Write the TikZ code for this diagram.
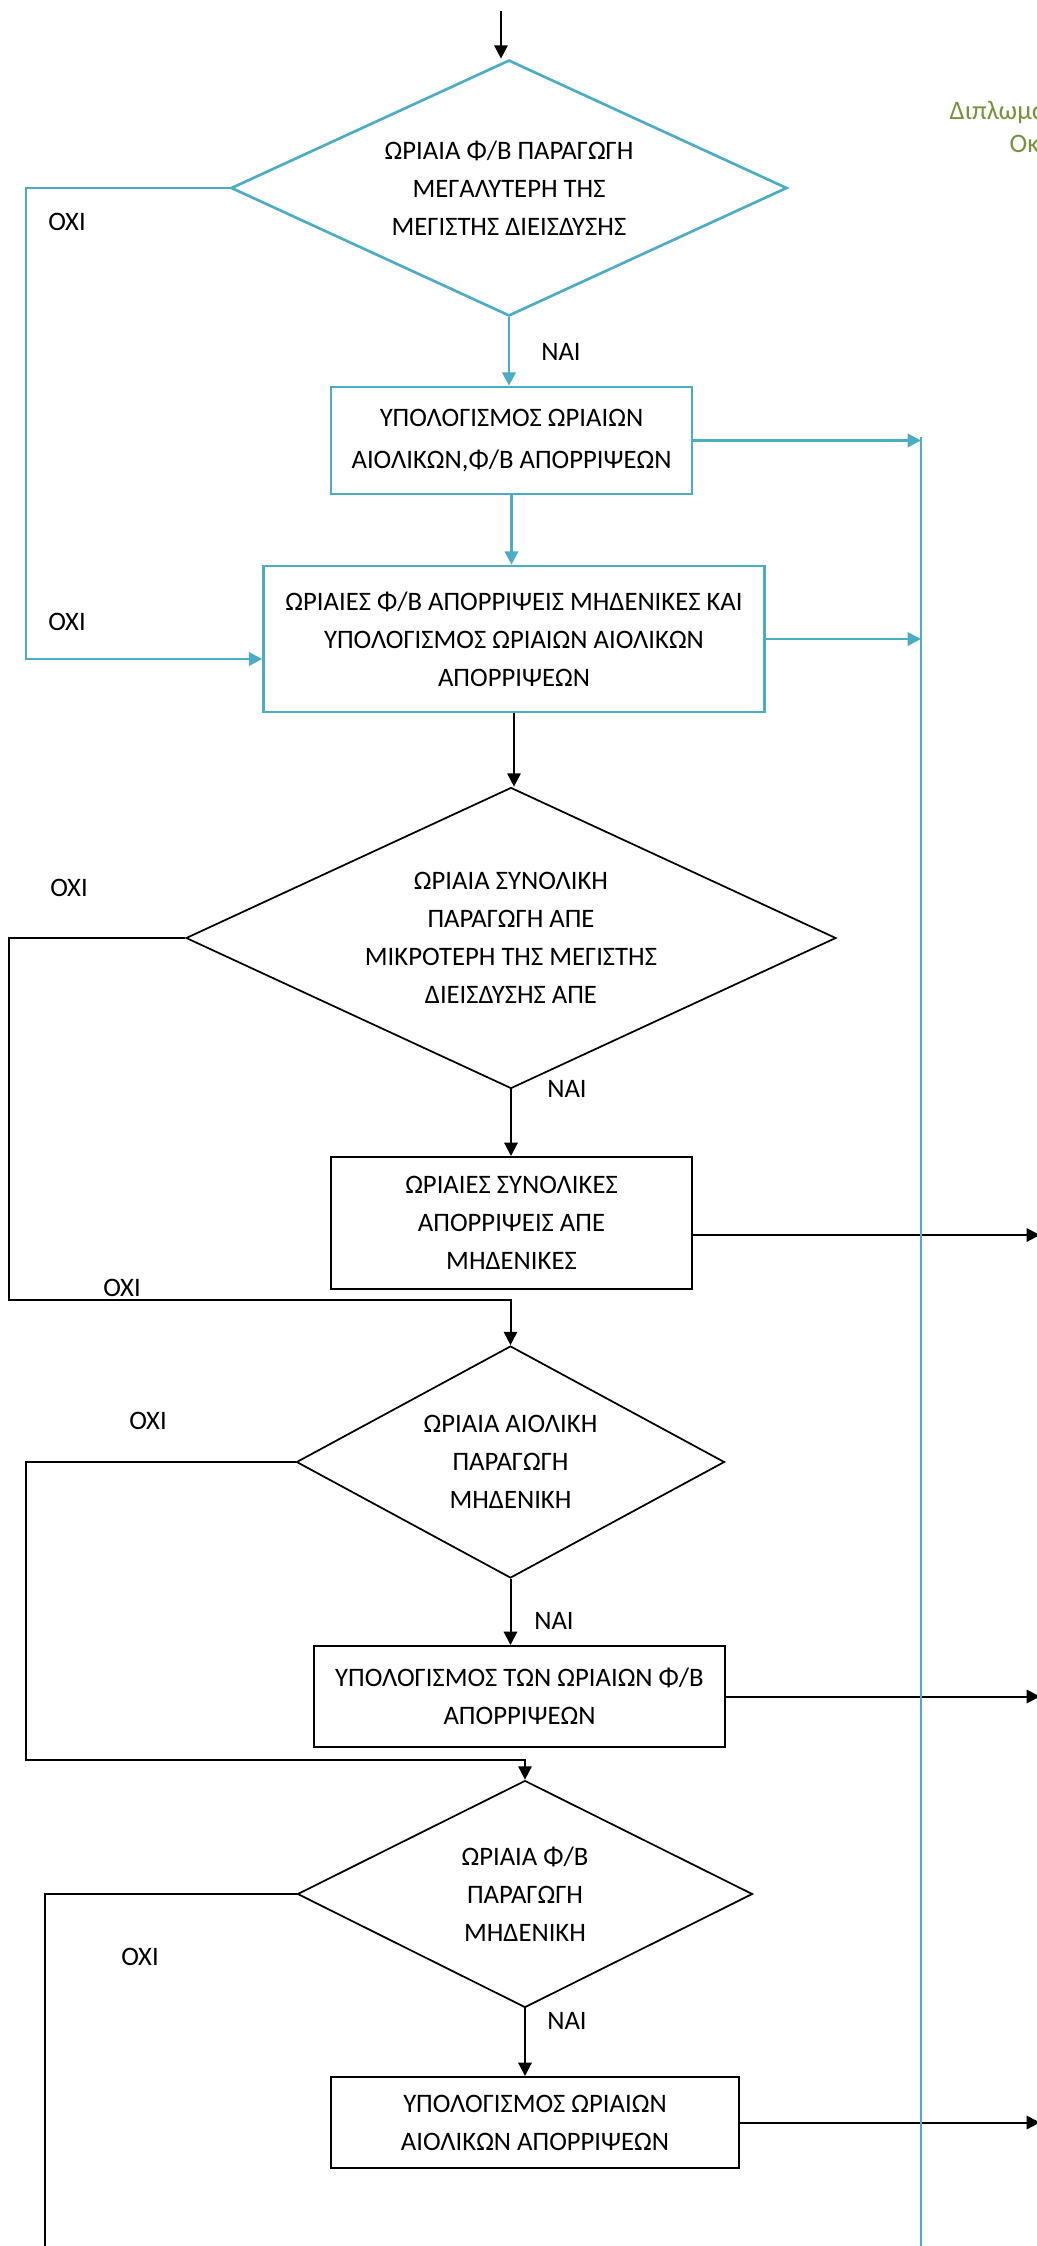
\documentclass[tikz,border=0pt]{standalone}
\usepackage{fontspec}
\setmainfont{Carlito}
\usetikzlibrary{shapes.geometric,arrows.meta}
\definecolor{flowblue}{HTML}{4BACC6}
\definecolor{headgreen}{HTML}{76923C}

\begin{document}
\begin{tikzpicture}[
    x=0.75pt, y=0.75pt,
    font=\fontsize{20}{28.5}\selectfont,
    box/.style={draw, rectangle, line width=1.5pt, align=center, inner sep=0pt},
    decision/.style={draw, diamond, line width=1.3pt, align=center, inner sep=0pt},
    arrow/.style={-{Triangle[length=10pt,width=10pt]}, line width=1.5pt},
    line/.style={line width=1.5pt},
    pv/.style={draw=flowblue, color=flowblue, line width=2pt},
    note/.style={align=center},
    header/.style={anchor=base west, text=headgreen}
]
    \useasboundingbox (0,0) rectangle (1037,-2246);

    % κεφαλίδα
    \node[header] (head1) at (945,-119) {Διπλωματική Εργασία};
    \node[header] (head2) at (1005,-152) {Οκτώβριος};

    % είσοδος
    \coordinate (in) at (501,-11);
    \coordinate (bus) at (921,-437);
    \coordinate (out) at (1040,-1235);

    % μπλε τμήμα
    \node[decision, pv, text=black, minimum width=417pt, minimum height=192pt, shape aspect=2.17] (d1) at (509,-188) {
        ΩΡΙΑΙΑ Φ/Β ΠΑΡΑΓΩΓΗ\\
        ΜΕΓΑΛΥΤΕΡΗ ΤΗΣ\\
        ΜΕΓΙΣΤΗΣ ΔΙΕΙΣΔΥΣΗΣ
    };
    \node[box, pv, text=black, minimum width=270.75pt, minimum height=80.25pt, font=\fontsize{20}{32}\selectfont] (calc) at (511.5,-440.5) {
        ΥΠΟΛΟΓΙΣΜΟΣ ΩΡΙΑΙΩΝ\\
        ΑΙΟΛΙΚΩΝ,Φ/Β ΑΠΟΡΡΙΨΕΩΝ
    };
    \node[box, pv, text=black, minimum width=375.75pt, minimum height=109.5pt] (zeropv) at (514,-639) {
        ΩΡΙΑΙΕΣ Φ/Β ΑΠΟΡΡΙΨΕΙΣ ΜΗΔΕΝΙΚΕΣ ΚΑΙ\\
        ΥΠΟΛΟΓΙΣΜΟΣ ΩΡΙΑΙΩΝ ΑΙΟΛΙΚΩΝ\\
        ΑΠΟΡΡΙΨΕΩΝ
    };

    % συνολική παραγωγή ΑΠΕ
    \node[decision, minimum width=487.5pt, minimum height=225.75pt, shape aspect=2.16] (dres) at (511,-938) {
        ΩΡΙΑΙΑ ΣΥΝΟΛΙΚΗ\\
        ΠΑΡΑΓΩΓΗ ΑΠΕ\\
        ΜΙΚΡΟΤΕΡΗ ΤΗΣ ΜΕΓΙΣΤΗΣ\\
        ΔΙΕΙΣΔΥΣΗΣ ΑΠΕ
    };
    \node[box, minimum width=270.75pt, minimum height=99pt] (zerores) at (511.5,-1223) {
        ΩΡΙΑΙΕΣ ΣΥΝΟΛΙΚΕΣ\\
        ΑΠΟΡΡΙΨΕΙΣ ΑΠΕ\\
        ΜΗΔΕΝΙΚΕΣ
    };

    % αιολική παραγωγή
    \node[decision, minimum width=321pt, minimum height=174pt, shape aspect=1.84] (dwind) at (510.5,-1462) {
        ΩΡΙΑΙΑ ΑΙΟΛΙΚΗ\\
        ΠΑΡΑΓΩΓΗ\\
        ΜΗΔΕΝΙΚΗ
    };
    \node[box, minimum width=308.25pt, minimum height=75.75pt] (calcpv) at (519.5,-1696.5) {
        ΥΠΟΛΟΓΙΣΜΟΣ ΤΩΝ ΩΡΙΑΙΩΝ Φ/Β\\
        ΑΠΟΡΡΙΨΕΩΝ
    };

    % φ/β παραγωγή
    \node[decision, minimum width=341.25pt, minimum height=170.25pt, shape aspect=2] (dpvzero) at (525,-1894) {
        ΩΡΙΑΙΑ Φ/Β\\
        ΠΑΡΑΓΩΓΗ\\
        ΜΗΔΕΝΙΚΗ
    };
    \node[box, minimum width=306pt, minimum height=68.25pt] (calcwind) at (535,-2122.5) {
        ΥΠΟΛΟΓΙΣΜΟΣ ΩΡΙΑΙΩΝ\\
        ΑΙΟΛΙΚΩΝ ΑΠΟΡΡΙΨΕΩΝ
    };

    % ετικέτες ΝΑΙ / ΟΧΙ
    \node[note] (no1a) at (67,-222) {ΟΧΙ};
    \node[note] (no1b) at (67,-622) {ΟΧΙ};
    \node[note] (yes1) at (561,-352) {ΝΑΙ};
    \node[note] (no2a) at (69,-888) {ΟΧΙ};
    \node[note] (no2b) at (122,-1288) {ΟΧΙ};
    \node[note] (yes2) at (567,-1089) {ΝΑΙ};
    \node[note] (no3) at (148,-1421) {ΟΧΙ};
    \node[note] (yes3) at (554,-1621) {ΝΑΙ};
    \node[note] (no4) at (140,-1957) {ΟΧΙ};
    \node[note] (yes4) at (567,-2021) {ΝΑΙ};

    % βέλη
    \draw[arrow] (in) -- (in |- d1.north);
    \draw[arrow, pv] (d1.south) -- (d1.south |- calc.north);
    \draw[arrow, pv] (d1.west) -| (26,-659) -- (zeropv.west |- 0,-659);
    \draw[arrow, pv] (calc.south) -- (calc.south |- zeropv.north);
    \draw[arrow, pv] (calc.east) -- (calc.east -| bus);
    \draw[arrow, pv] (zeropv.east) -- (zeropv.east -| bus);

    \draw[arrow] (zeropv.south) -- (zeropv.south |- dres.north);
    \draw[arrow] (dres.west) -| (9,-1300) -| (dwind.north);
    \draw[arrow] (dres.south) -- (dres.south |- zerores.north);
    \draw[arrow] (zerores.east |- out) -- (out);

    \draw[arrow] (dwind.west) -| (26,-1760) -| (dpvzero.north);
    \draw[arrow] (dwind.south) -- (dwind.south |- calcpv.north);
    \draw[arrow] (calcpv.east) -- (calcpv.east -| out);

    \draw[line] (dpvzero.west) -| (45,-2250);
    \draw[arrow] (dpvzero.south) -- (dpvzero.south |- calcwind.north);
    \draw[arrow] (calcwind.east) -- (calcwind.east -| out);

    % κατακόρυφη μπλε γραμμή
    \draw[line, pv] (bus) -- (bus |- 0,-2250);

\end{tikzpicture}
\end{document}
